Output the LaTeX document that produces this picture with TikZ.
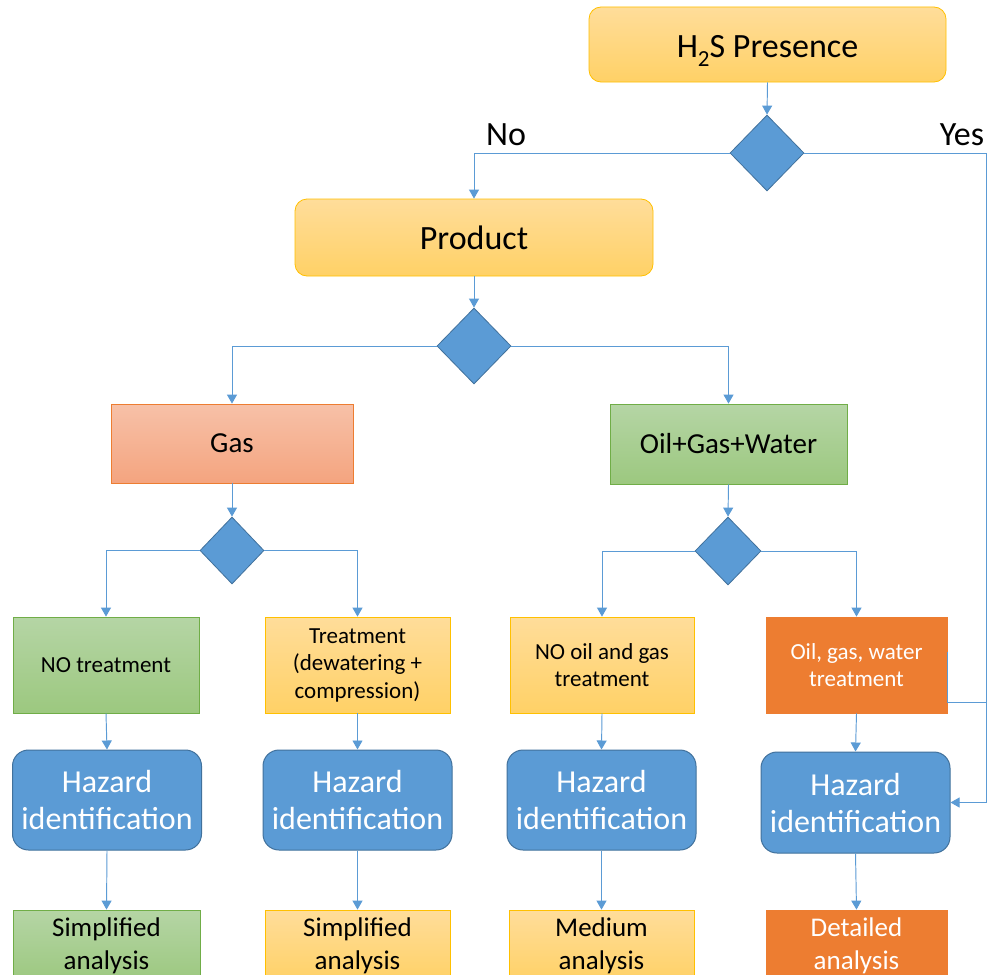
\documentclass[tikz,border=0pt]{standalone}
\usepackage{fontspec}
\setmainfont{Carlito}
\usetikzlibrary{arrows.meta,shapes.geometric,calc}
\definecolor{lnblue}{HTML}{5B9BD5}
\definecolor{dkblue}{HTML}{41719C}
\definecolor{yelT}{HTML}{FFDD9A}
\definecolor{yelB}{HTML}{FFD166}
\definecolor{yelD}{HTML}{FFC000}
\definecolor{grnT}{HTML}{B5D5A5}
\definecolor{grnB}{HTML}{9CC87F}
\definecolor{grnD}{HTML}{70AD47}
\definecolor{salT}{HTML}{F7C1A8}
\definecolor{salB}{HTML}{F4A47F}
\definecolor{orng}{HTML}{ED7D31}
\tikzset{
  box/.style={rectangle, inner sep=0pt, align=center, line width=0.8pt},
  yelbox/.style={box, draw=yelD, top color=yelT, bottom color=yelB, text=black},
  grnbox/.style={box, draw=grnD, top color=grnT, bottom color=grnB, text=black},
  salbox/.style={box, draw=orng, top color=salT, bottom color=salB, text=black},
  orgbox/.style={box, draw=orng, fill=orng, text=white},
  hzbox/.style={box, rounded corners=16pt, draw=dkblue, fill=lnblue, text=white, line width=1pt,
     minimum width=189pt, minimum height=100pt, font=\fontsize{32}{37}\selectfont},
  dec/.style={diamond, draw=dkblue, fill=lnblue, inner sep=0pt, line width=0.8pt},
  conn/.style={draw=lnblue, line width=0.95pt, -{Triangle[width=10pt,length=9pt]}},
  plain/.style={draw=lnblue, line width=0.95pt},
  lbl/.style={font=\fontsize{34}{40}\selectfont, inner sep=0pt}
}
\begin{document}
\begin{tikzpicture}[x=1pt,y=-1pt]
\useasboundingbox (0,0) rectangle (987,974);
\clip (0,0) rectangle (987,974);
\fill[white] (0,0) rectangle (987,974);
% top
\node[yelbox, rounded corners=12pt, minimum width=357pt, minimum height=75pt, text height=28pt, text depth=3pt, font=\fontsize{34}{40}\selectfont] (h2s) at (767.5,44.5) {H\raisebox{-0.28em}{\fontsize{23}{23}\selectfont 2}S Presence};
\node[dec, minimum width=74pt, minimum height=76pt] (d1) at (767,153) {};
\node[yelbox, rounded corners=12pt, minimum width=358pt, minimum height=77pt, font=\fontsize{34}{40}\selectfont] (prod) at (474,237.5) {Product};
\node[dec, minimum width=74pt, minimum height=76pt] (d2) at (474,346) {};
\node[salbox, minimum width=242pt, minimum height=79pt, font=\fontsize{29}{34}\selectfont] (gas) at (232,443.5) {Gas};
\node[grnbox, minimum width=237pt, minimum height=80pt, font=\fontsize{29}{34}\selectfont] (ogw) at (728.5,444) {Oil+Gas+Water};
\node[dec, minimum width=64pt, minimum height=67pt] (d3) at (232,550.5) {};
\node[dec, minimum width=66pt, minimum height=68pt] (d4) at (728,551) {};
% treatment row
\node[grnbox, minimum width=186pt, minimum height=96pt, font=\fontsize{23}{27.5}\selectfont] (not) at (106,665) {NO treatment};
\node[yelbox, minimum width=185pt, minimum height=96pt, font=\fontsize{23}{27.5}\selectfont] (trt) at (357.5,665) {Treatment\\(dewatering +\\compression)};
\node[yelbox, minimum width=184pt, minimum height=96pt, font=\fontsize{23}{27.5}\selectfont] (nog) at (602,665) {NO oil and gas\\treatment};
\node[orgbox, minimum width=181pt, minimum height=96pt, font=\fontsize{23}{27.5}\selectfont] (ogwt) at (856.5,665) {Oil, gas, water\\treatment};
% hazard row
\node[hzbox] (hz1) at (107,800) {Hazard\\identification};
\node[hzbox] (hz2) at (357.5,800) {Hazard\\identification};
\node[hzbox] (hz3) at (601.5,800) {Hazard\\identification};
\node[hzbox, minimum height=101pt] (hz4) at (855.5,802.5) {Hazard\\identification};
% analysis row
\node[grnbox, minimum width=187pt, minimum height=72pt, font=\fontsize{27}{33}\selectfont] (an1) at (106.5,946) {Simplified\\analysis};
\node[yelbox, minimum width=185pt, minimum height=72pt, font=\fontsize{27}{33}\selectfont] (an2) at (357.5,946) {Simplified\\analysis};
\node[yelbox, minimum width=185pt, minimum height=72pt, font=\fontsize{27}{33}\selectfont] (an3) at (601.5,946) {Medium\\analysis};
\node[orgbox, minimum width=181pt, minimum height=72pt, font=\fontsize{27}{33}\selectfont] (an4) at (856.5,946) {Detailed\\analysis};
% labels
\node[lbl] (no) at (506,135) {No};
\node[lbl] (yes) at (962,135) {Yes};
% connectors
\coordinate (yr) at (986,153);
\draw[conn] (h2s.south) -- (d1.north);
\draw[conn] (d1.west) -| (prod.north);
\draw[conn] (d1.east) -- (yr) |- (hz4.east);
\draw[plain] ($(ogwt.north east)+(0,35)$) -- ($(ogwt.north east)+(0,86)$) -- ($(yr |- ogwt.north)+(0,86)$);
\draw[conn] (prod.south) -- (d2.north);
\draw[conn] (d2.west) -| (gas.north);
\draw[conn] (d2.east) -| (ogw.north);
\draw[conn] (gas.south) -- (d3.north);
\draw[conn] (ogw.south) -- (d4.north);
\draw[conn] (d3.west) -| (not.north);
\draw[conn] (d3.east) -| (trt.north);
\draw[conn] (d4.west) -| (nog.north);
\draw[conn] (d4.east) -| (ogwt.north);
\draw[conn] (not.south) -- (hz1.north);
\draw[conn] (trt.south) -- (hz2.north);
\draw[conn] (nog.south) -- (hz3.north);
\draw[conn] (ogwt.south) -- (hz4.north);
\draw[conn] (hz1.south) -- (an1.north);
\draw[conn] (hz2.south) -- (an2.north);
\draw[conn] (hz3.south) -- (an3.north);
\draw[conn] (hz4.south) -- (an4.north);
\end{tikzpicture}
\end{document}
